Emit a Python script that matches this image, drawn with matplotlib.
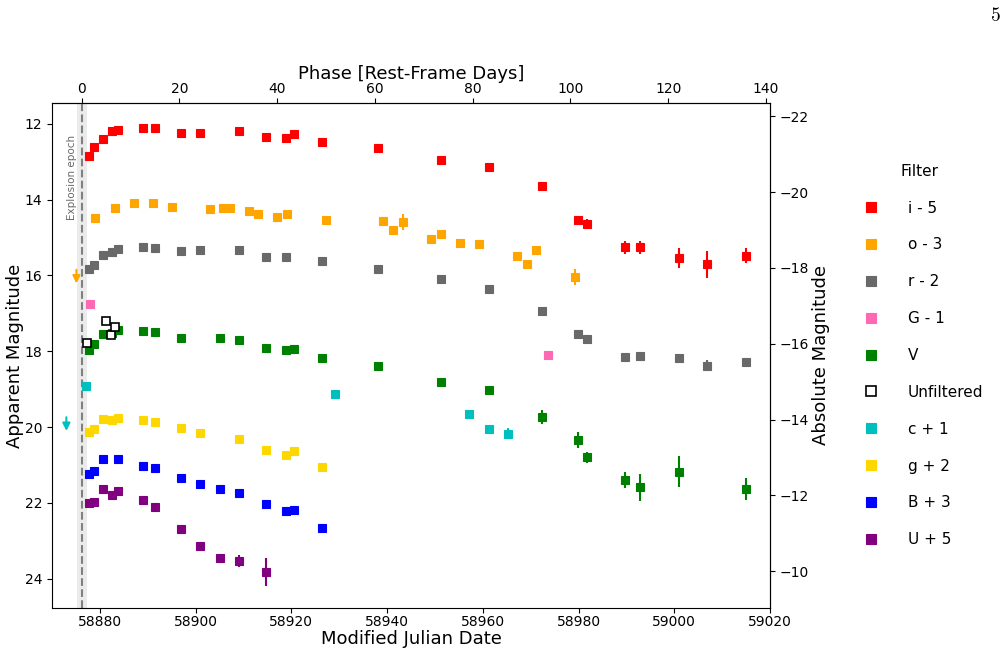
import numpy as np
from matplotlib import pyplot as plt

# explosion epoch, redshift and distance modulus used for the extra axes
t0 = 58876.2
z = 0.021
mu = 33.8

# photometry: MJD, raw magnitude, error (offsets applied at plot time)
mjd_i = [58877.74, 58878.85, 58880.73, 58882.62, 58883.74, 58888.97, 58891.6, 58896.85,
         58900.96, 58909.05, 58914.77, 58918.95, 58920.5, 58926.34, 58938.2, 58951.3,
         58961.2, 58972.4, 58979.83, 58981.86, 58989.8, 58992.74, 59000.9, 59006.9, 59014.9]
mag_i = [17.86, 17.62, 17.39, 17.19, 17.15, 17.12, 17.11, 17.25, 17.23, 17.18, 17.36, 17.37,
         17.28, 17.47, 17.65, 17.96, 18.15, 18.64, 19.54, 19.64, 20.25, 20.25, 20.54, 20.71, 20.48]
err_i = [0.03] * 17 + [0.04, 0.1, 0.12, 0.17, 0.17, 0.26, 0.35, 0.2]

mjd_o = [58879.06, 58883.11, 58887.09, 58891.13, 58895.1, 58903.05, 58905.77, 58907.1,
         58911.07, 58913.1, 58917.07, 58919.16, 58927.25, 58939.2, 58941.3, 58943.3,
         58949.1, 58951.2, 58955.3, 58959.2, 58967.2, 58969.2, 58971.2, 58979.35]
mag_o = [17.48, 17.23, 17.08, 17.10, 17.19, 17.24, 17.21, 17.22, 17.30, 17.37, 17.45, 17.39,
         17.53, 17.56, 17.79, 17.59, 18.03, 17.91, 18.15, 18.17, 18.48, 18.69, 18.34, 19.04]
err_o = [0.03] * 13 + [0.1, 0.03, 0.21] + [0.03] * 7 + [0.2]

mjd_r = [58877.74, 58878.85, 58880.73, 58882.62, 58883.74, 58888.97, 58891.6, 58896.85,
         58900.96, 58909.05, 58914.77, 58918.95, 58926.34, 58938.2, 58951.3, 58961.2,
         58972.4, 58979.83, 58981.86, 58989.8, 58992.74, 59000.9, 59006.9, 59014.9]
mag_r = [17.84, 17.72, 17.46, 17.37, 17.31, 17.25, 17.28, 17.36, 17.33, 17.33, 17.50, 17.51,
         17.62, 17.83, 18.09, 18.36, 18.94, 19.55, 19.68, 20.15, 20.13, 20.17, 20.38, 20.29]
err_r = [0.03] * 21 + [0.1, 0.15, 0.04]

mjd_G = [58877.95, 58973.56]
mag_G = [17.74, 19.11]
err_G = [0.03, 0.03]

mjd_V = [58877.74, 58878.85, 58880.73, 58882.62, 58883.74, 58888.97, 58891.6, 58896.85,
         58905.0, 58909.05, 58914.77, 58918.95, 58920.5, 58926.34, 58938.2, 58951.3,
         58961.2, 58972.4, 58979.83, 58981.86, 58989.8, 58992.74, 59000.9, 59014.9]
mag_V = [17.96, 17.80, 17.54, 17.52, 17.43, 17.47, 17.50, 17.65, 17.66, 17.69, 17.91, 17.96,
         17.94, 18.17, 18.40, 18.82, 19.02, 19.74, 20.34, 20.80, 21.39, 21.59, 21.18, 21.63]
err_V = [0.03] * 17 + [0.18, 0.2, 0.15, 0.21, 0.35, 0.41, 0.28]

mjd_unf = [58877.26, 58881.23, 58882.28, 58883.25]
mag_unf = [17.79, 17.21, 17.58, 17.35]
err_unf = [0.03, 0.03, 0.1, 0.1]

mjd_c = [58877.05, 58929.1, 58957.2, 58961.2, 58965.2]
mag_c = [17.92, 18.12, 18.66, 19.06, 19.17]
err_c = [0.03, 0.03, 0.06, 0.1, 0.15]

mjd_g = [58877.74, 58878.85, 58880.73, 58882.62, 58883.74, 58888.97, 58891.6, 58896.85,
         58900.96, 58909.05, 58914.77, 58918.95, 58920.5, 58926.34]
mag_g = [18.12, 18.05, 17.78, 17.82, 17.75, 17.81, 17.86, 18.03, 18.16, 18.32, 18.61, 18.74,
         18.62, 19.05]
err_g = [0.03] * 14

mjd_B = [58877.74, 58878.85, 58880.73, 58883.74, 58888.97, 58891.6, 58896.85, 58900.96,
         58905.0, 58909.05, 58914.77, 58918.95, 58920.5, 58926.34]
mag_B = [18.23, 18.16, 17.84, 17.85, 18.02, 18.08, 18.33, 18.50, 18.62, 18.75, 19.03, 19.21,
         19.18, 19.65]
err_B = [0.03] * 14

mjd_U = [58877.74, 58878.85, 58880.73, 58882.62, 58883.74, 58888.97, 58891.6, 58896.85,
         58900.96, 58905.0, 58909.05, 58914.77]
mag_U = [17.01, 16.97, 16.63, 16.80, 16.68, 16.93, 17.11, 17.69, 18.13, 18.45, 18.53, 18.83]
err_U = [0.03] * 8 + [0.06, 0.05, 0.17, 0.37]

# non-detection limits (raw magnitudes)
lim_o = (58875.1, 18.85)
lim_c = (58873.0, 18.74)

filters = ['i', 'o', 'r', 'G', 'V', 'Unfiltered', 'c', 'g', 'B', 'U']
offsets = [-5, -3, -2, -1, 0, 0, 1, 2, 3, 5]
colors = ['red', 'orange', 'dimgray', 'hotpink', 'green', 'black', 'c', 'gold', 'blue', 'purple']
data = [(mjd_i, mag_i, err_i), (mjd_o, mag_o, err_o), (mjd_r, mag_r, err_r),
        (mjd_G, mag_G, err_G), (mjd_V, mag_V, err_V), (mjd_unf, mag_unf, err_unf),
        (mjd_c, mag_c, err_c), (mjd_g, mag_g, err_g), (mjd_B, mag_B, err_B),
        (mjd_U, mag_U, err_U)]

fig = plt.figure(figsize=(10.08, 6.56), dpi=100)
ax = fig.add_axes([0.0516, 0.0732, 0.7123, 0.7698])

# explosion epoch
ax.axvspan(t0 - 1.05, t0 + 1.05, color='#ebebeb', zorder=0, lw=0)
ax.axvline(t0, color='gray', ls='--', lw=1.5, zorder=1)
ax.text(t0 - 2.0, 12.28, 'Explosion epoch', rotation=90, ha='center', va='top',
        fontsize=7.5, color='dimgray')

handles = []
labels = []
for name, off, col, (x, m, e) in zip(filters, offsets, colors, data):
    y = np.array(m) + off
    if off == 0:
        label = name
    elif off < 0:
        label = f'{name} - {-off}'
    else:
        label = f'{name} + {off}'
    if name == 'Unfiltered':
        cont = ax.errorbar(x, y, yerr=e, fmt='s', color='black', mfc='white', mec='black',
                           ms=6, mew=1.2, elinewidth=1.5, capsize=0, zorder=4)
    else:
        cont = ax.errorbar(x, y, yerr=e, fmt='s', color=col, ms=6, mew=0.8, mec=col,
                           elinewidth=1.5, capsize=0, zorder=3)
    handles.append(cont[0])
    labels.append(label)

# upper limits as arrows
for (lx, lm), off, col in [(lim_o, -3, 'orange'), (lim_c, 1, 'c')]:
    ax.annotate('', xy=(lx, lm + off + 0.36), xytext=(lx, lm + off),
                arrowprops=dict(arrowstyle='-|>', color=col, lw=1.5, mutation_scale=11,
                                shrinkA=0, shrinkB=0))

ax.set_xlim(58870, 59020)
ax.set_ylim(24.77, 11.45)
ax.set_xticks(np.arange(58880, 59021, 20))
ax.set_yticks(np.arange(12, 25, 2))
ax.tick_params(labelsize=10)
ax.tick_params(axis='x', pad=1.5)
ax.set_xlabel('Modified Julian Date', fontsize=13, labelpad=1)
ax.set_ylabel('Apparent Magnitude', fontsize=13, labelpad=0.5)

top = ax.secondary_xaxis('top', functions=(lambda t: (t - t0) / (1 + z),
                                           lambda p: p * (1 + z) + t0))
top.set_xticks(np.arange(0, 141, 20))
top.tick_params(labelsize=10, pad=1.5)
top.set_xlabel('Phase [Rest-Frame Days]', fontsize=13, labelpad=2)

right = ax.secondary_yaxis('right', functions=(lambda m: m - mu, lambda a: a + mu))
right.set_yticks(np.arange(-22, -9, 2))
right.tick_params(labelsize=10)
right.set_ylabel('Absolute Magnitude', fontsize=13, labelpad=2)

leg = ax.legend(handles, labels, loc='center left', bbox_to_anchor=(1.10, 0.5),
                frameon=False, title='Filter', fontsize=11, title_fontsize=11,
                labelspacing=1.43, handletextpad=1.4, markerscale=1.3)

fig.text(0.988, 0.975, '5', fontsize=14, family='cmr10', ha='center', va='center')

fig.savefig('out.png', dpi=100)
